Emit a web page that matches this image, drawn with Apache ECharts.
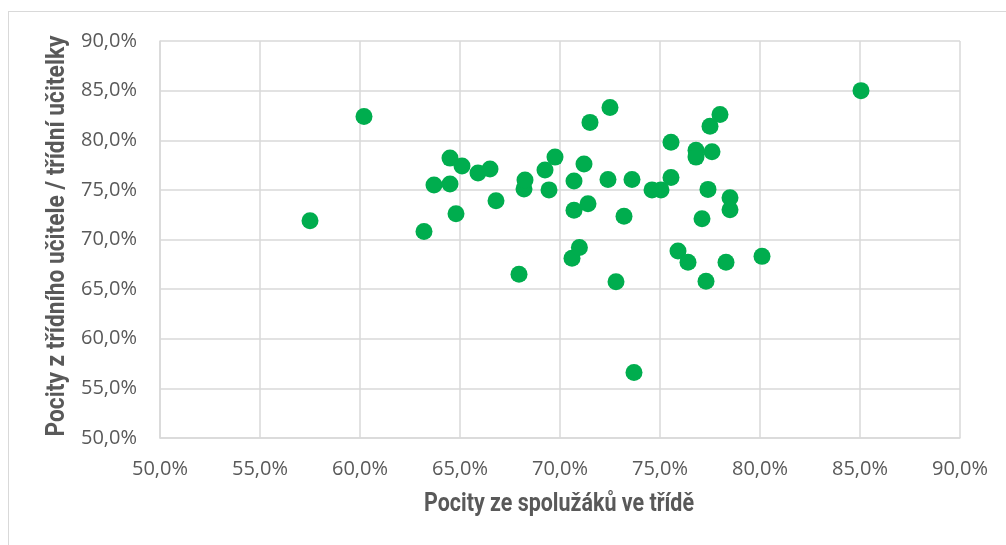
<!DOCTYPE html>
<html>
<head>
<meta charset="utf-8">
<script src="https://cdn.jsdelivr.net/npm/echarts@6/dist/echarts.min.js"></script>
<style>
    html, body { margin: 0; padding: 0; background: #fff; }
    #frame { position: absolute; left: 8px; top: 11px; width: 1010px; height: 545px; border: 1px solid #d9d9d9; box-sizing: border-box; }
    #chart { position: absolute; left: 0; top: 0; width: 1006px; height: 545px; }
</style>
</head>
<body>
<div id="frame"></div>
<div id="chart"></div>
<script>
    // Pocity ze spolužáků ve třídě (x) vs. Pocity z třídního učitele (y), v %
    let classmates = [
        57.5, 60.2, 63.2, 63.7, 64.5, 64.5, 64.8, 65.1, 65.9, 66.5,
        66.8, 67.95, 68.2, 68.25, 69.25, 69.45, 69.75, 70.6, 70.7, 70.7,
        70.97, 71.2, 71.4, 71.5, 72.4, 72.5, 72.8, 73.2, 73.6, 73.7,
        74.6, 75.05, 75.55, 75.55, 75.9, 76.4, 76.8, 76.8, 77.1, 77.3,
        77.4, 77.5, 77.6, 78.0, 78.3, 78.5, 78.5, 80.1, 85.05
    ];
    let teacher = [
        71.9, 82.4, 70.8, 75.5, 75.6, 78.2, 72.6, 77.4, 76.7, 77.1,
        73.9, 66.5, 75.1, 76.0, 77.0, 75.0, 78.3, 68.1, 75.9, 72.95,
        69.2, 77.6, 73.6, 81.8, 76.05, 83.3, 65.75, 72.35, 76.05, 56.6,
        75.0, 75.0, 79.8, 76.25, 68.85, 67.7, 79.0, 78.3, 72.1, 65.8,
        75.05, 81.4, 78.85, 82.6, 67.7, 74.2, 73.0, 68.3, 85.0
    ];
    let axisMin = 50;
    let axisMax = 90;
    let axisStep = 5;
    let xTitle = 'Pocity ze spolužáků ve třídě';
    let yTitle = 'Pocity z třídního učitele / třídní učitelky';

    let points = classmates.map(function (x, i) { return [x, teacher[i]]; });

    let pct = function (v) { return v.toFixed(1).replace('.', ',') + '%'; };

    // titulky os jsou v originale uzkym tucnym pismem -> Roboto bold stlacene do sirky
    let titleFont = 'bold 25px Roboto';
    let measure = document.createElement('canvas').getContext('2d');
    measure.font = titleFont;
    let xTitleScale = 270 / measure.measureText(xTitle).width;
    let yTitleScale = 401 / measure.measureText(yTitle).width;

    let chart = echarts.init(document.getElementById('chart'), null, {renderer: 'canvas'});
    chart.setOption({
        animation: false,
        grid: {left: 160, right: 46, top: 41, bottom: 107},
        xAxis: {
            type: 'value', min: axisMin, max: axisMax, interval: axisStep,
            axisLine: {lineStyle: {color: '#d9d9d9', width: 1.5}},
            axisTick: {show: false},
            splitLine: {show: true, lineStyle: {color: '#d9d9d9', width: 1.5}},
            axisLabel: {formatter: pct, margin: 21, fontFamily: 'Open Sans', fontSize: 20, color: '#595959'}
        },
        yAxis: {
            type: 'value', min: axisMin, max: axisMax, interval: axisStep,
            axisLine: {show: true, lineStyle: {color: '#d9d9d9', width: 1.5}},
            axisTick: {show: false},
            splitLine: {show: true, lineStyle: {color: '#d9d9d9', width: 1.5}},
            axisLabel: {formatter: pct, margin: 23, fontFamily: 'Open Sans', fontSize: 20, color: '#595959'}
        },
        graphic: [
            {
                type: 'text', x: 559, y: 505, scaleX: xTitleScale,
                style: {text: xTitle, font: titleFont, fill: '#595959', textAlign: 'center', textVerticalAlign: 'middle'}
            },
            {
                type: 'text', x: 58, y: 236, rotation: Math.PI / 2, scaleX: yTitleScale,
                style: {text: yTitle, font: titleFont, fill: '#595959', textAlign: 'center', textVerticalAlign: 'middle'}
            }
        ],
        series: [{
            type: 'scatter',
            data: points,
            symbolSize: 17,
            itemStyle: {color: '#00ad4e', opacity: 1}
        }]
    });
</script>
</body>
</html>
